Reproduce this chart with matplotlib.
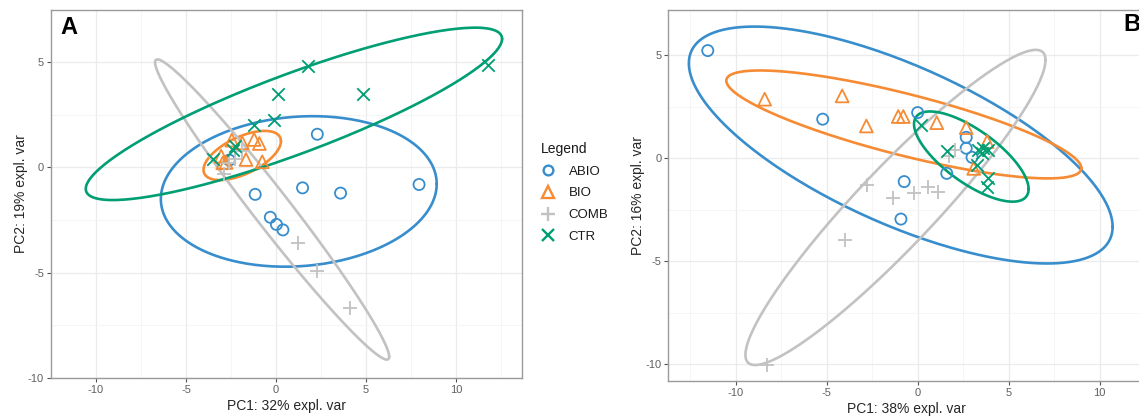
import numpy as np
import matplotlib
matplotlib.use("Agg")
import matplotlib.pyplot as plt
from matplotlib.lines import Line2D

plt.rcParams['font.family'] = ['Liberation Sans', 'DejaVu Sans']
plt.rcParams['axes.unicode_minus'] = False

# --- PCA scores, panel A ---
a_abio_x = [2.29, 1.47, 3.58, 7.94, -1.16, -0.32, 0.02, 0.38, -2.60]
a_abio_y = [1.58, -0.97, -1.22, -0.81, -1.28, -2.37, -2.71, -2.97, 0.35]
a_bio_x = [-3.05, -2.78, -1.88, -1.22, -0.93, -1.67, -0.77, -2.46, -2.96]
a_bio_y = [0.54, 0.24, 1.17, 1.33, 1.14, 0.38, 0.27, 1.30, 0.22]
a_comb_x = [-2.90, -2.30, -1.90, -2.60, 1.22, 2.29, 4.09]
a_comb_y = [-0.30, 0.40, 0.80, 0.20, -3.58, -4.91, -6.69]
a_ctr_x = [11.77, 1.80, 0.13, 4.82, -0.09, -1.22, -2.28, -2.37, -3.50]
a_ctr_y = [4.89, 4.81, 3.48, 3.48, 2.28, 2.01, 1.03, 0.82, 0.38]

# --- PCA scores, panel B ---
b_abio_x = [-11.54, -5.22, 0.00, -0.74, -0.92, 1.60, 2.67, 2.67, 2.99]
b_abio_y = [5.23, 1.90, 2.22, -1.13, -2.95, -0.73, 1.02, 0.49, 0.05]
b_bio_x = [-8.41, -4.15, -2.82, -1.07, -0.79, 1.05, 2.67, 3.82, 3.08]
b_bio_y = [2.87, 3.03, 1.57, 2.03, 2.03, 1.73, 1.49, 0.81, -0.49]
b_comb_x = [-2.76, -1.38, -0.20, 0.59, 1.14, -3.98, -8.29, 2.06, 1.75]
b_comb_y = [-1.30, -1.94, -1.70, -1.38, -1.62, -3.97, -10.05, 0.40, 0.10]
b_ctr_x = [0.20, 1.62, 3.34, 3.61, 3.88, 3.52, 3.25, 3.88, 3.79]
b_ctr_y = [1.60, 0.36, 0.40, 0.49, 0.40, 0.24, -0.33, -0.97, -1.38]

# confidence ellipses: centre, half-range in x / y, correlation
# order: ABIO, BIO, COMB, CTR
a_ell_cx = [1.26, -1.88, -0.22, 0.99]
a_ell_cy = [-1.14, 0.57, -2.00, 2.55]
a_ell_rx = [7.66, 2.15, 6.50, 11.56]
a_ell_ry = [3.58, 1.17, 7.14, 4.10]
a_ell_r = [0.10, 0.58, -0.98, 0.87]

b_ell_cx = [-0.93, -0.76, -1.22, 2.95]
b_ell_cy = [0.645, 1.645, -2.385, 0.085]
b_ell_rx = [11.65, 9.76, 8.25, 3.15]
b_ell_ry = [5.75, 2.62, 7.65, 2.19]
b_ell_r = [-0.69, -0.81, 0.935, -0.72]

groups = ['ABIO', 'BIO', 'COMB', 'CTR']
colors = ['#388ECC', '#F68B33', '#C2C2C2', '#009E73']
x_labels = ['PC1: 32% expl. var', 'PC1: 38% expl. var']
y_labels = ['PC2: 19% expl. var', 'PC2: 16% expl. var']

W, H = 1139, 417
fig = plt.figure(figsize=(W / 100, H / 100), dpi=100)


def px_axes(x0, y0, x1, y1):
    return fig.add_axes([x0 / W, 1 - y1 / H, (x1 - x0) / W, (y1 - y0) / H])


axA = px_axes(51, 10, 521.7, 377.7)
axB = px_axes(668.3, 10, 1145, 381)


def ellipse(ax, cx, cy, rx, ry, r, color):
    t = np.linspace(0, 2 * np.pi, 300)
    x = cx + rx * np.cos(t)
    y = cy + ry * (r * np.cos(t) + np.sqrt(1 - r ** 2) * np.sin(t))
    ax.plot(x, y, color=color, lw=1.9, zorder=2, solid_capstyle='round')


def style(ax, xlim, ylim, xlab, ylab):
    ax.set_xlim(*xlim)
    ax.set_ylim(*ylim)
    ax.set_xticks([-10, -5, 0, 5, 10])
    ax.set_yticks([-10, -5, 0, 5])
    ax.set_xticks(np.arange(-12.5, 15, 5), minor=True)
    ax.set_yticks([-7.5, -2.5, 2.5], minor=True)
    ax.grid(True, which='major', color='#EBEBEB', lw=0.9, zorder=0)
    ax.grid(True, which='minor', color='#F4F4F4', lw=0.6, zorder=0)
    ax.set_axisbelow(True)
    for s in ax.spines.values():
        s.set_color('#9a9a9a')
        s.set_linewidth(1.0)
    ax.tick_params(which='major', length=3, width=0.8, color='#555555',
                   labelsize=8, labelcolor='#606060', pad=2)
    ax.tick_params(which='minor', length=0)
    ax.set_xlabel(xlab, fontsize=10, color='#262626', labelpad=3)
    ax.set_ylabel(ylab, fontsize=10, color='#262626', labelpad=0)


def panel(ax, pts, ell):
    for i in range(len(pts)):
        ellipse(ax, ell[0][i], ell[1][i], ell[2][i], ell[3][i], ell[4][i], colors[i])
    (ab_x, ab_y), (bi_x, bi_y), (co_x, co_y), (ct_x, ct_y) = pts
    ax.scatter(ab_x, ab_y, s=64, facecolors='none', edgecolors=colors[0], linewidths=1.3, zorder=3)
    ax.scatter(bi_x, bi_y, s=85, marker='^', facecolors='none', edgecolors=colors[1], linewidths=1.3, zorder=3)
    ax.scatter(co_x, co_y, s=110, marker='+', color=colors[2], linewidths=1.3, zorder=3)
    ax.scatter(ct_x, ct_y, s=80, marker='x', color=colors[3], linewidths=1.3, zorder=3)


panel(axA,
      [(a_abio_x, a_abio_y), (a_bio_x, a_bio_y), (a_comb_x, a_comb_y), (a_ctr_x, a_ctr_y)],
      [a_ell_cx, a_ell_cy, a_ell_rx, a_ell_ry, a_ell_r])
panel(axB,
      [(b_abio_x, b_abio_y), (b_bio_x, b_bio_y), (b_comb_x, b_comb_y), (b_ctr_x, b_ctr_y)],
      [b_ell_cx, b_ell_cy, b_ell_rx, b_ell_ry, b_ell_r])

style(axA, (-11.76, 13.64), (-10, 7.49), x_labels[0], y_labels[0])
style(axB, (-13.71, 11.82), (-10.81, 7.2), x_labels[1], y_labels[1])

fig.text(60 / W, 1 - 16 / H, 'A', fontsize=17, fontweight='bold', va='top', ha='left')
fig.text(1123 / W, 1 - 13 / H, 'B', fontsize=17, fontweight='bold', va='top', ha='left')

# shared legend between the panels
markers = ['o', '^', '+', 'x']
sizes = [7, 8, 10, 8]
handles = [Line2D([], [], ls='none', marker=markers[i], markersize=sizes[i],
                  markerfacecolor='none', markeredgecolor=colors[i],
                  markeredgewidth=1.7)
           for i in range(len(groups))]
leg = axA.legend(handles, groups, title='Legend', loc='upper left',
                 bbox_to_anchor=(541 / W, 1 - 142 / H), bbox_transform=fig.transFigure,
                 frameon=False, fontsize=9.5, title_fontsize=10, alignment='left',
                 borderpad=0, borderaxespad=0, handlelength=1.0, handletextpad=1.1,
                 labelspacing=0.72)
for txt in leg.get_texts():
    txt.set_color('#1a1a1a')
leg.get_title().set_color('#1a1a1a')

fig.savefig('out.png', dpi=100)
